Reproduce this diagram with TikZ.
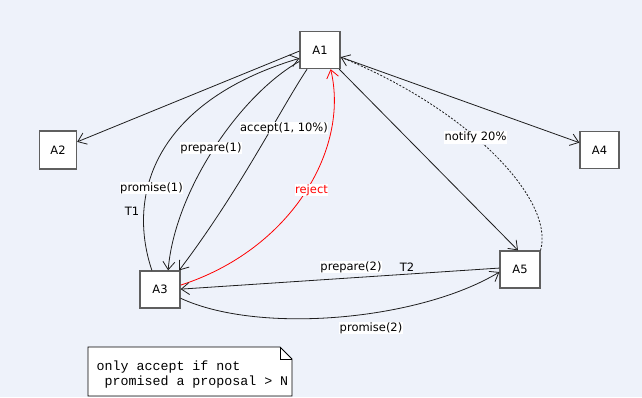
\documentclass[tikz,border=0pt]{standalone}
\usepackage{fontspec}
\setmainfont{DejaVu Sans}
\setmonofont{Liberation Mono}
\usetikzlibrary{arrows.meta}
\definecolor{bgc}{RGB}{238,242,250}
\definecolor{boxc}{RGB}{95,95,95}
\definecolor{linec}{RGB}{30,30,30}
\begin{document}
\begin{tikzpicture}[x=1pt,y=-1pt,
  agent/.style={draw=boxc, line width=1.3pt, fill=white, minimum width=40pt, minimum height=37pt, inner sep=0pt, font=\fontsize{11.5}{13}\selectfont},
  lbl/.style={fill=white, inner sep=0.6pt, font=\fontsize{11.5}{13}\selectfont},
  plain/.style={inner sep=0pt, font=\fontsize{11.5}{13}\selectfont},
  conn/.style={draw=linec, line width=0.8pt, -{Straight Barb[length=8pt,width=12pt]}},
  notifyline/.style={dash pattern=on 2pt off 1.6pt},
]
\fill[bgc] (0,0) rectangle (642,397);
\useasboundingbox (0,0) rectangle (642,397);

% agents
\node[agent] (A1) at (320,50) {A1};
\node[agent, minimum width=37pt, minimum height=38pt] (A2) at (58,150) {A2};
\node[agent] (A3) at (160,289.5) {A3};
\node[agent, minimum width=39pt] (A4) at (599.5,150) {A4};
\node[agent] (A5) at (520,269.5) {A5};

% connectors
\draw[conn] (A1.183) -- (A2.23);
\draw[conn] (A1.341) -- (A4.160);
\draw[conn] (A1.315) -- (A5.96);
\draw[conn, notifyline] (A5.43) .. controls (555,200) and (470,110) .. (A1.341);
\draw[conn] (A3.113) .. controls (125,190) and (160,100) .. (A1.202);
\draw[conn] (A1.209) .. controls (240,95) and (175,190) .. (A3.67);
\draw[conn] (A1.236) .. controls (280,110) and (240,190) .. (A3.45);
\draw[conn, draw=red] (A3.12.7) .. controls (290,250) and (350,150) .. (A1.299);
\draw[conn] (A5.176) -- (A3.1);
\draw[conn] (A3.337) .. controls (260,335) and (420,320) .. (A5.187);

% labels
\node[lbl] (lpro1) at (151.5,188) {promise(1)};
\node[plain] (lt1) at (132,211) {T1};
\node[lbl] (lpre1) at (211,148) {prepare(1)};
\node[lbl] (lacc) at (284,128) {accept(1, 10\%)};
\node[lbl, text=red] (lrej) at (311.5,190) {reject};
\node[lbl] (lnot) at (475.5,137.5) {notify 20\%};
\node[lbl] (lpre2) at (351,267) {prepare(2)};
\node[plain] (lt2) at (407,267) {T2};
\node[lbl] (lpro2) at (371,328) {promise(2)};

% note
\draw[fill=white, draw=black, line width=0.8pt] (88,347) -- (280,347) -- (292,359) -- (292,396) -- (88,396) -- cycle;
\draw[draw=black, line width=0.8pt] (280,347) -- (280,359) -- (292,359);
\node[anchor=west, align=left, inner sep=0pt, font=\ttfamily\fontsize{13.3}{15.5}\selectfont] (note) at (96.5,374.5) {only accept if not\\\hspace*{0.6em}promised a proposal > N};
\end{tikzpicture}
\end{document}
